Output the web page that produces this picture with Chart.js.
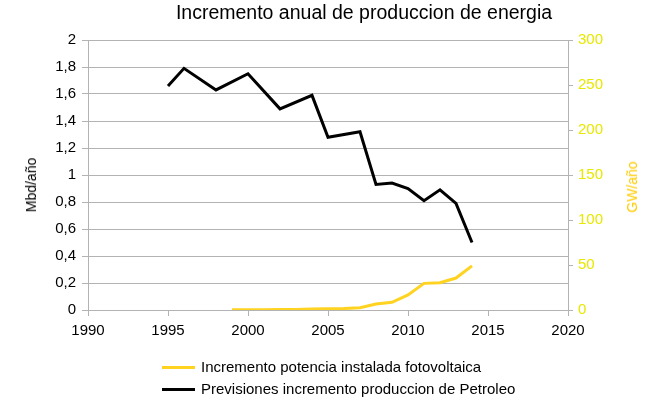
<!DOCTYPE html>
<html>
<head>
<meta charset="utf-8">
<script src="https://cdn.jsdelivr.net/npm/chart.js@4/dist/chart.umd.min.js"></script>
<style>
  html, body { margin: 0; padding: 0; background: #fff; }
  #wrap { position: relative; width: 652px; height: 400px; font-family: "Liberation Sans", Arial, sans-serif; }
  #chart { position: absolute; left: 0; top: 0; }
  #title { position: absolute; left: 0; width: 728px; top: 1px; text-align: center; font-size: 19.5px; color: #000; }
  .axt { position: absolute; font-size: 14px; white-space: nowrap; transform: translate(-50%, -50%) rotate(-90deg); }
  #ytl { left: 31px; top: 185px; color: #000; }
  #ytr { left: 632px; top: 187px; color: #ffcc00; }
  #legend { position: absolute; left: 162px; top: 356px; font-size: 15px; color: #000; }
  .row { height: 22px; line-height: 22px; white-space: nowrap; }
  .sw { display: inline-block; width: 33px; height: 3px; vertical-align: middle; margin-right: 6px; position: relative; top: -1px; }
</style>
</head>
<body>
<div id="wrap">
  <canvas id="chart" width="652" height="400"></canvas>
  <div id="title">Incremento anual de produccion de energia</div>
  <div id="ytl" class="axt">Mbd/año</div>
  <div id="ytr" class="axt">GW/año</div>
  <div id="legend"></div>
</div>
<script>
// Previsiones incremento produccion de Petroleo (Mbd/año, eje izquierdo)
const oilYears = [1995, 1996, 1998, 2000, 2002, 2004, 2005, 2007, 2008, 2009, 2010, 2011, 2012, 2013, 2014];
const oilValues = [1.66, 1.79, 1.63, 1.75, 1.49, 1.59, 1.28, 1.32, 0.93, 0.94, 0.90, 0.81, 0.89, 0.79, 0.50];

// Incremento potencia instalada fotovoltaica (GW/año, eje derecho)
const pvYears = [1999, 2000, 2001, 2002, 2003, 2004, 2005, 2006, 2007, 2008, 2009, 2010, 2011, 2012, 2013, 2014];
const pvValues = [0.2, 0.3, 0.4, 0.5, 0.6, 1.1, 1.4, 1.6, 2.6, 6.6, 8.5, 16.7, 29.6, 30.4, 35.5, 49];

const leftTicks = [0, 0.2, 0.4, 0.6, 0.8, 1, 1.2, 1.4, 1.6, 1.8, 2];
const rightTicks = [0, 50, 100, 150, 200, 250, 300];
const xTicks = [1990, 1995, 2000, 2005, 2010, 2015, 2020];

const GRID = '#b3b3b3';
const FONT = { family: '"Liberation Sans", Arial, sans-serif', size: 15 };

function pairs(xs, ys) {
    return xs.map(function (x, i) { return { x: x, y: ys[i] }; });
}

function comma(v) {
    return Number.isInteger(v) ? String(v) : v.toFixed(1).replace('.', ',');
}

const datasets = [
    {
        label: 'Incremento potencia instalada fotovoltaica',
        data: pairs(pvYears, pvValues),
        borderColor: '#ffd320',
        backgroundColor: '#ffd320',
        borderWidth: 3,
        pointRadius: 0,
        yAxisID: 'y2'
    },
    {
        label: 'Previsiones incremento produccion de Petroleo',
        data: pairs(oilYears, oilValues),
        borderColor: '#000000',
        backgroundColor: '#000000',
        borderWidth: 3,
        pointRadius: 0,
        yAxisID: 'y'
    }
];

new Chart(document.getElementById('chart'), {
    type: 'line',
    data: { datasets: datasets },
    options: {
        responsive: false,
        animation: false,
        layout: { padding: { left: 0, right: 0, top: 40, bottom: 60 } },
        plugins: {
            legend: { display: false },
            title: { display: false },
            tooltip: { enabled: false }
        },
        elements: { line: { tension: 0 } },
        scales: {
            x: {
                type: 'linear',
                min: 1990,
                max: 2020,
                afterBuildTicks: function (s) { s.ticks = xTicks.map(function (v) { return { value: v }; }); },
                afterFit: function (s) { s.height = 30; },
                ticks: { color: '#000', font: FONT, padding: 6, maxRotation: 0, callback: function (v) { return String(v); } },
                grid: { drawOnChartArea: false, drawTicks: true, tickLength: 6, color: GRID },
                border: { color: GRID }
            },
            y: {
                position: 'left',
                min: 0,
                max: 2,
                afterBuildTicks: function (s) { s.ticks = leftTicks.map(function (v) { return { value: v }; }); },
                afterFit: function (s) { s.width = 88; },
                ticks: { color: '#000', font: FONT, padding: 6, callback: function (v) { return comma(v); } },
                grid: { color: GRID, tickLength: 6 },
                border: { color: GRID }
            },
            y2: {
                position: 'right',
                min: 0,
                max: 300,
                afterBuildTicks: function (s) { s.ticks = rightTicks.map(function (v) { return { value: v }; }); },
                afterFit: function (s) { s.width = 84; },
                ticks: { color: '#e8e800', font: FONT, padding: 5 },
                grid: { drawOnChartArea: false, drawTicks: true, tickLength: 5, color: GRID },
                border: { color: GRID }
            }
        }
    }
});

// legend below, left aligned like the original
const legendEl = document.getElementById('legend');
legendEl.innerHTML = datasets.map(function (d) {
    return '<div class="row"><span class="sw" style="background:' + d.borderColor + '"></span>' + d.label + '</div>';
}).join('');
</script>
</body>
</html>
